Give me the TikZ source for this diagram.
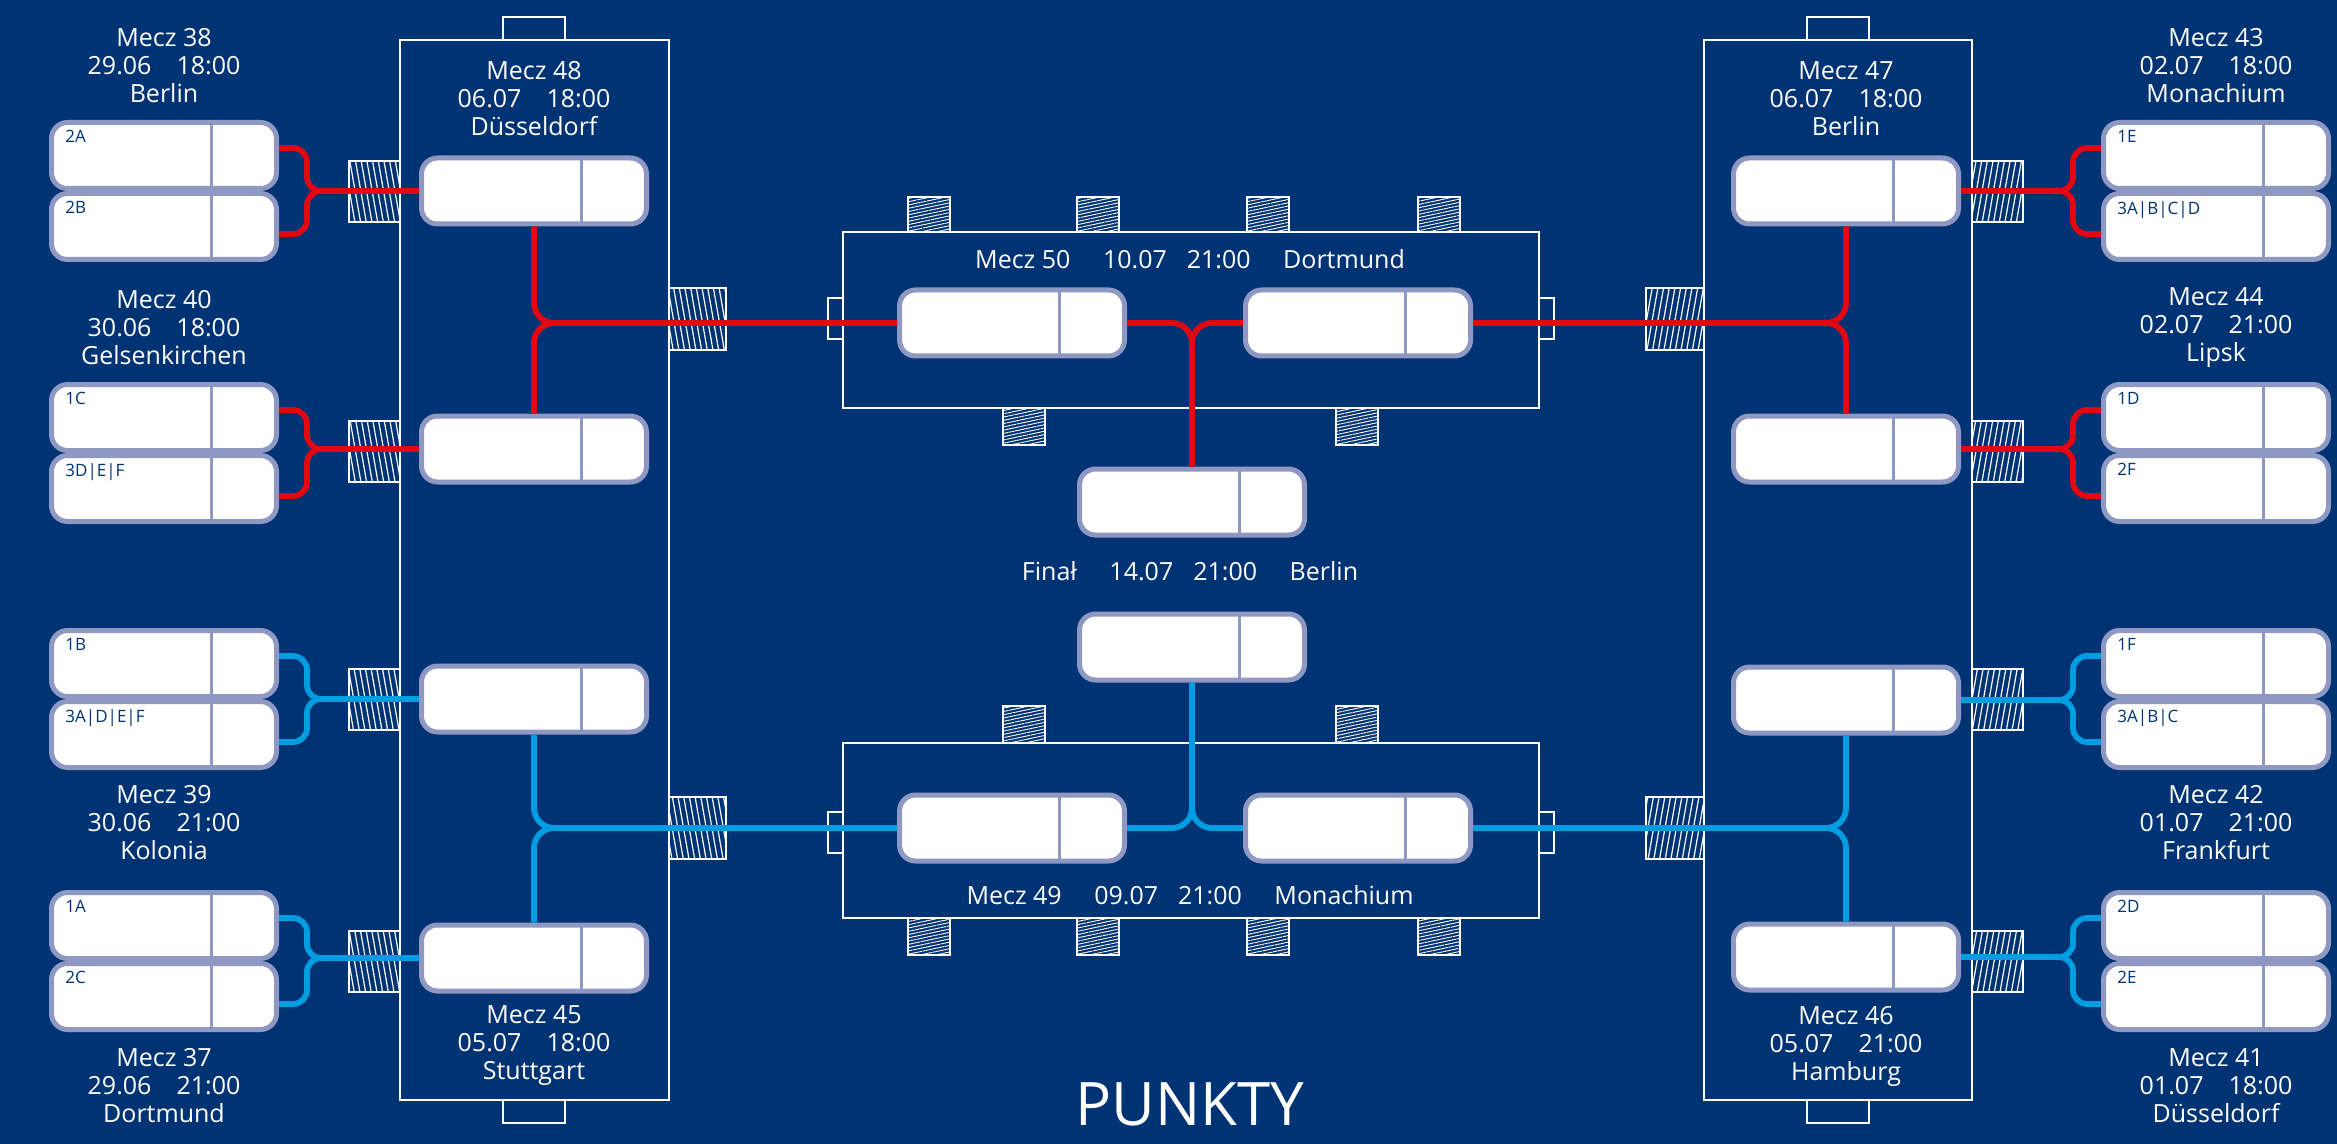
\documentclass[tikz,border=0pt]{standalone}
\usepackage{fontspec}
\setmainfont{Open Sans}
\usetikzlibrary{patterns.meta}

\definecolor{navy}{RGB}{0,51,115}
\definecolor{boxline}{RGB}{142,152,194}
\definecolor{redline}{RGB}{227,6,19}
\definecolor{blueline}{RGB}{0,158,224}

\tikzset{
  slot/.style={rectangle, rounded corners=8pt, draw=boxline, line width=2.5pt, fill=white,
    minimum width=112.5pt, minimum height=33pt, inner sep=0pt,
    path picture={\draw[boxline, line width=1.8pt]
      ([xshift=-32.5pt]path picture bounding box.north east) --
      ([xshift=-32.5pt]path picture bounding box.south east);}},
  seed/.style={anchor=north west, xshift=8pt, yshift=-5pt, inner sep=0pt, text=navy,
    font=\fontsize{8.5}{9}\selectfont},
  info/.style={text=white, align=center, font=\fontsize{12.5}{14}\selectfont},
  rim/.style={draw=white, line width=1.4pt},
  hatchside/.style={draw=white, line width=1pt, pattern color=white,
    pattern={Lines[angle=#1, distance=2.8pt, line width=0.6pt]}},
  hatchtop/.style={draw=white, line width=1pt, pattern color=white,
    pattern={Lines[angle=#1, distance=1.6pt, line width=0.45pt]}},
  tie/.style={line width=2.9pt, rounded corners=7pt},
}

\begin{document}
\begin{tikzpicture}[x=0.5pt, y=-0.5pt]
  \useasboundingbox (0,0) rectangle (2337,1144);
  \fill[navy] (0,0) rectangle (2337,1144);

  % team slots, round of 16
  \foreach \n/\s/\y in {t2A/2A/155.5, t2B/2B/226.5, t1C/1C/417.5, t3DEF/3D|E|F/488.5,
                        t1B/1B/663.5, t3ADEF/3A|D|E|F/734.5, t1A/1A/925.5, t2C/2C/996.5}
    \node[slot, label={[seed]north west:\s}] (\n) at (164,\y) {};
  \foreach \n/\s/\y in {t1E/1E/155.5, t3ABCD/3A|B|C|D/226.5, t1D/1D/417.5, t2F/2F/488.5,
                        t1F/1F/663.5, t3ABC/3A|B|C/734.5, t2D/2D/925.5, t2E/2E/996.5}
    \node[slot, label={[seed]north west:\s}] (\n) at (2216,\y) {};

  % winner slots
  \foreach \n/\x/\y in {w38/534/191, w40/534/449, w39/534/699, w37/534/958,
                        w43/1846/191, w44/1846/449, w42/1846/700, w41/1846/957,
                        w48/1012/323, w47/1358/323, w45/1012/828, w46/1358/828,
                        w50/1192/502, w49/1192/647}
    \node[slot] (\n) at (\x,\y) {};

  % match texts
  \node[info] (i38) at (164,66)   {Mecz 38\\29.06\quad 18:00\\Berlin};
  \node[info] (i40) at (164,328)  {Mecz 40\\30.06\quad 18:00\\Gelsenkirchen};
  \node[info] (i39) at (164,823)  {Mecz 39\\30.06\quad 21:00\\Kolonia};
  \node[info] (i37) at (164,1086) {Mecz 37\\29.06\quad 21:00\\Dortmund};
  \node[info] (i43) at (2216,66)   {Mecz 43\\02.07\quad 18:00\\Monachium};
  \node[info] (i44) at (2216,328)  {Mecz 44\\02.07\quad 21:00\\Lipsk};
  \node[info] (i42) at (2216,823)  {Mecz 42\\01.07\quad 21:00\\Frankfurt};
  \node[info] (i41) at (2216,1086) {Mecz 41\\01.07\quad 18:00\\Düsseldorf};
  \node[info] (i48) at (534,99)    {Mecz 48\\06.07\quad 18:00\\Düsseldorf};
  \node[info] (i45) at (534,1046)  {Mecz 45\\05.07\quad 18:00\\Stuttgart};
  \node[info] (i47) at (1846,99)   {Mecz 47\\06.07\quad 18:00\\Berlin};
  \node[info] (i46) at (1846,1046) {Mecz 46\\05.07\quad 21:00\\Hamburg};
  \node[info] (i50) at (1190,259) {Mecz 50\hspace{1.3em}10.07\hspace{0.8em}21:00\hspace{1.3em}Dortmund};
  \node[info] (i49) at (1190,895) {Mecz 49\hspace{1.3em}09.07\hspace{0.8em}21:00\hspace{1.3em}Monachium};
  \node[info] (ifinal) at (1190,571) {Finał\hspace{1.3em}14.07\hspace{0.8em}21:00\hspace{1.3em}Berlin};
  \node[text=white, inner sep=0pt, font=\fontsize{30}{30}\selectfont] (points) at (1190,1104) {PUNKTY};

  % frames
  \draw[rim] (400,40) rectangle (669,1100);
  \draw[rim] (1704,40) rectangle (1972,1100);
  \foreach \x in {503,1807} {
    \draw[rim] (\x,17) rectangle (\x+62,40);
    \draw[rim] (\x,1100) rectangle (\x+62,1123);
  }
  \draw[rim] (843,232) rectangle (1539,408);
  \draw[rim] (843,743) rectangle (1539,918);
  \foreach \y in {318,832} {
    \draw[rim] (828,\y-20) rectangle (843,\y+21);
    \draw[rim] (1539,\y-20) rectangle (1554,\y+21);
  }

  % hatched tabs
  \foreach \y in {191,451,699,961} {
    \draw[hatchside=-80] (349,\y-30) rectangle (400,\y+31);
    \draw[hatchside=80] (1972,\y-30) rectangle (2023,\y+31);
  }
  \foreach \y in {320,829} {
    \draw[hatchside=-80] (669,\y-32) rectangle (726,\y+30);
    \draw[hatchside=80] (1646,\y-32) rectangle (1704,\y+30);
  }
  \foreach \x in {908,1077,1247,1418} {
    \draw[hatchtop=12] (\x,197) rectangle (\x+42,232);
    \draw[hatchtop=12] (\x,918) rectangle (\x+42,955);
  }
  \foreach \x in {1003,1336} {
    \draw[hatchtop=12] (\x,408) rectangle (\x+42,445);
    \draw[hatchtop=12] (\x,706) rectangle (\x+42,743);
  }

  % connectors
  \foreach \up/\dn/\m/\c in {t2A/t2B/w38/redline, t1C/t3DEF/w40/redline,
                             t1B/t3ADEF/w39/blueline, t1A/t2C/w37/blueline} {
    \draw[tie, \c] ([yshift=3.75pt]\up.east) -- ++(28,0) |- (\m.west);
    \draw[tie, \c] ([yshift=-3.75pt]\dn.east) -- ++(28,0) |- (\m.west);
  }
  \foreach \up/\dn/\m/\c in {t1E/t3ABCD/w43/redline, t1D/t2F/w44/redline,
                             t1F/t3ABC/w42/blueline, t2D/t2E/w41/blueline} {
    \draw[tie, \c] ([yshift=3.75pt]\up.west) -- ++(-28,0) |- (\m.east);
    \draw[tie, \c] ([yshift=-3.75pt]\dn.west) -- ++(-28,0) |- (\m.east);
  }
  \draw[tie, redline, rounded corners=10pt] (w38.south) |- (w48.west);
  \draw[tie, redline, rounded corners=10pt] (w40.north) |- (w48.west);
  \draw[tie, redline, rounded corners=10pt] (w43.south) |- (w47.east);
  \draw[tie, redline, rounded corners=10pt] (w44.north) |- (w47.east);
  \draw[tie, blueline, rounded corners=10pt] (w39.south) |- (w45.west);
  \draw[tie, blueline, rounded corners=10pt] (w37.north) |- (w45.west);
  \draw[tie, blueline, rounded corners=10pt] (w42.south) |- (w46.east);
  \draw[tie, blueline, rounded corners=10pt] (w41.north) |- (w46.east);
  \draw[tie, redline, rounded corners=10pt] (w48.east) -| (w50.north);
  \draw[tie, redline, rounded corners=10pt] (w47.west) -| (w50.north);
  \draw[tie, blueline, rounded corners=10pt] (w45.east) -| (w49.south);
  \draw[tie, blueline, rounded corners=10pt] (w46.west) -| (w49.south);
\end{tikzpicture}
\end{document}
